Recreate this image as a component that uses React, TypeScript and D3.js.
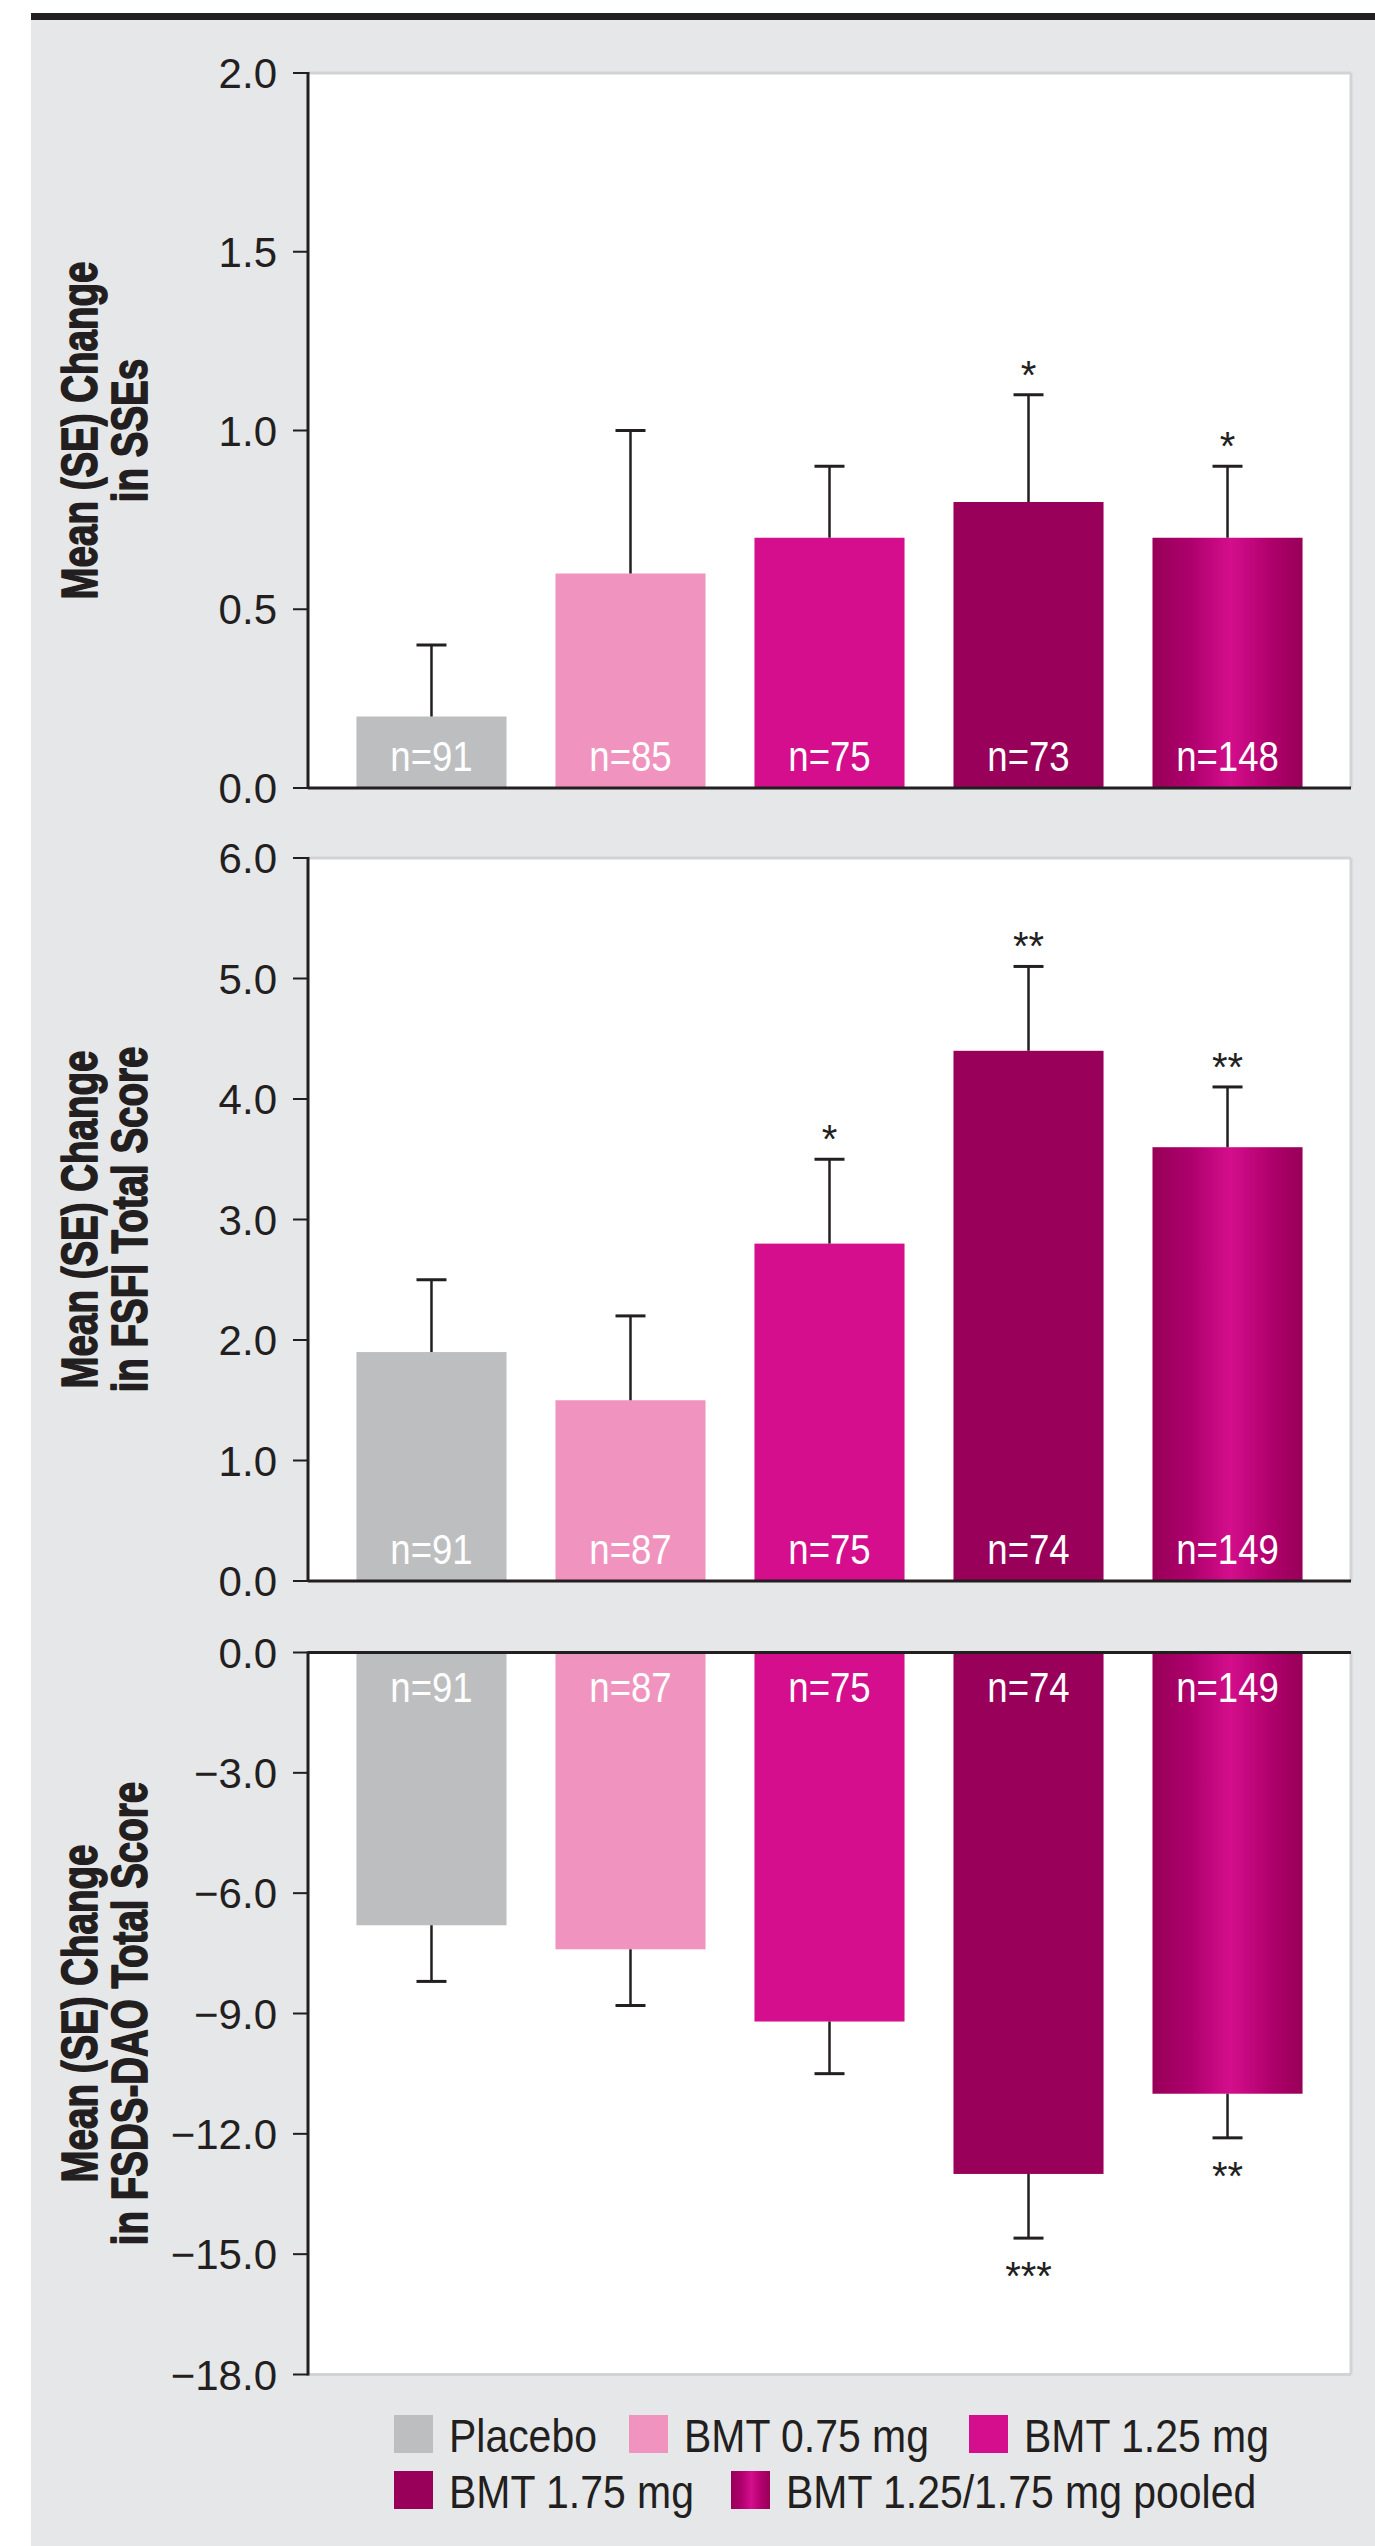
import React from "react";
import * as d3 from "d3";

// ---------- data ----------
const groups = ["Placebo", "BMT 0.75 mg", "BMT 1.25 mg", "BMT 1.75 mg", "BMT 1.25/1.75 mg pooled"];
const groupColors = ["#bcbec0", "#f094bf", "#d40e8c", "#990059", "url(#pooledGrad)"];

const sseMean = [0.2, 0.6, 0.7, 0.8, 0.7];
const sseSE = [0.2, 0.4, 0.2, 0.3, 0.2];
const sseN = [91, 85, 75, 73, 148];
const sseSig = ["", "", "", "*", "*"];
const sseTicks = [0, 0.5, 1.0, 1.5, 2.0];

const fsfiMean = [1.9, 1.5, 2.8, 4.4, 3.6];
const fsfiSE = [0.6, 0.7, 0.7, 0.7, 0.5];
const fsfiN = [91, 87, 75, 74, 149];
const fsfiSig = ["", "", "*", "**", "**"];
const fsfiTicks = [0, 1, 2, 3, 4, 5, 6];

const fsdsMean = [-6.8, -7.4, -9.2, -13.0, -11.0];
const fsdsSE = [1.4, 1.4, 1.3, 1.6, 1.1];
const fsdsN = [91, 87, 75, 74, 149];
const fsdsSig = ["", "", "", "***", "**"];
const fsdsTicks = [0, -3, -6, -9, -12, -15, -18];

const titleLine1 = "Mean (SE) Change";
const sseTitle2 = "in SSEs";
const fsfiTitle2 = "in FSFI Total Score";
const fsdsTitle2 = "in FSDS-DAO Total Score";

// ---------- layout ----------
const W = 1375;
const H = 2546;
const PLOT_L = 308;
const PLOT_R = 1351;
const FONT = "'Liberation Sans', Arial, Helvetica, sans-serif";
const INK = "#231f20";
const BORDER = "#d1d3d4";
const BG = "#e6e7e8";

const x = d3
  .scaleBand<string>()
  .domain(groups)
  .range([PLOT_L, PLOT_R])
  .paddingInner(0.246)
  .paddingOuter(0.2435);

const fmt = (v: number) => {
  const s = d3.format(".1f")(Math.abs(v));
  return v < 0 ? "\u2212" + s : s;
};

type PanelProps = {
  domain: [number, number];
  range: [number, number];
  ticks: number[];
  means: number[];
  ses: number[];
  ns: number[];
  sigs: string[];
  title2: string;
  negative?: boolean;
};

function Panel({ domain, range, ticks, means, ses, ns, sigs, title2, negative }: PanelProps) {
  const y = d3.scaleLinear().domain(domain).range(range);
  const y0 = y(0);
  const top = Math.min(range[0], range[1]);
  const bottom = Math.max(range[0], range[1]);
  const midY = (top + bottom) / 2;
  const bw = x.bandwidth();
  return (
    <g>
      <rect x={PLOT_L} y={top} width={PLOT_R - PLOT_L} height={bottom - top} fill="#fff" />
      {!negative && <line x1={PLOT_L} x2={PLOT_R} y1={top} y2={top} stroke={BORDER} strokeWidth={3} />}
      {negative && <line x1={PLOT_L} x2={PLOT_R} y1={bottom} y2={bottom} stroke={BORDER} strokeWidth={3} />}
      <line x1={PLOT_R} x2={PLOT_R} y1={top} y2={bottom} stroke={BORDER} strokeWidth={3} />
      {groups.map((g, i) => {
        const v = means[i];
        const cx = (x(g) as number) + bw / 2;
        const yv = y(v);
        const ye = y(v + (negative ? -ses[i] : ses[i]));
        return (
          <g key={g}>
            <rect
              x={x(g) as number}
              y={Math.min(yv, y0)}
              width={bw}
              height={Math.abs(yv - y0)}
              fill={groupColors[i]}
            />
            <line x1={cx} x2={cx} y1={yv} y2={ye} stroke={INK} strokeWidth={2.5} />
            <line x1={cx - 15} x2={cx + 15} y1={ye} y2={ye} stroke={INK} strokeWidth={3} />
            {sigs[i] && (
              <text
                x={cx}
                y={negative ? ye + 52 : ye - 6}
                textAnchor="middle"
                fontFamily={FONT}
                fontSize={40}
                fill={INK}
              >
                {sigs[i]}
              </text>
            )}
            <text
              transform={`translate(${cx},${negative ? y0 + 49 : y0 - 17}) scale(0.87,1)`}
              textAnchor="middle"
              fontFamily={FONT}
              fontSize={42}
              fill="#fff"
            >
              {"n=" + ns[i]}
            </text>
          </g>
        );
      })}
      <line x1={PLOT_L} x2={PLOT_R} y1={y0} y2={y0} stroke={INK} strokeWidth={3} />
      <line x1={PLOT_L} x2={PLOT_L} y1={top - 1} y2={bottom + 1} stroke={INK} strokeWidth={3} />
      {ticks.map((t) => (
        <g key={t}>
          <line x1={PLOT_L - 15} x2={PLOT_L} y1={y(t)} y2={y(t)} stroke={INK} strokeWidth={2} />
          <text
            x={277}
            y={y(t)}
            dy="0.36em"
            textAnchor="end"
            fontFamily={FONT}
            fontSize={42}
            fill={INK}
          >
            {fmt(t)}
          </text>
        </g>
      ))}
      {[titleLine1, title2].map((line, k) => (
        <text
          key={k}
          transform={`translate(${97 + k * 50},${midY}) rotate(-90) scale(0.77,1)`}
          textAnchor="middle"
          fontFamily={FONT}
          fontWeight="bold"
          fontSize={50}
          fill={INK}
          stroke={INK}
          strokeWidth={1.6}
          strokeLinejoin="round"
        >
          {line}
        </text>
      ))}
    </g>
  );
}

const legendRows = [
  [0, 1, 2],
  [3, 4],
];
const legendRowX = [
  [394, 629, 969],
  [394, 731],
];
const legendRowY = [2415, 2471];

export default function App() {
  return (
    <svg
      width={W}
      height={H}
      style={{ position: "absolute", left: 0, top: 0, display: "block" }}
      xmlns="http://www.w3.org/2000/svg"
    >
      <defs>
        <linearGradient id="pooledGrad" x1="0" x2="1" y1="0" y2="0">
          <stop offset="0%" stopColor="#980058" />
          <stop offset="25%" stopColor="#ad006c" />
          <stop offset="52%" stopColor="#d40e8c" />
          <stop offset="80%" stopColor="#ae006b" />
          <stop offset="100%" stopColor="#970058" />
        </linearGradient>
      </defs>
      <rect x={0} y={0} width={W} height={H} fill="#fff" />
      <rect x={31} y={19} width={W - 31} height={H - 19} fill={BG} />
      <rect x={31} y={13} width={W - 31} height={7} fill={INK} />

      <Panel
        domain={[0, 2]}
        range={[788, 73]}
        ticks={sseTicks}
        means={sseMean}
        ses={sseSE}
        ns={sseN}
        sigs={sseSig}
        title2={sseTitle2}
      />
      <Panel
        domain={[0, 6]}
        range={[1581, 858]}
        ticks={fsfiTicks}
        means={fsfiMean}
        ses={fsfiSE}
        ns={fsfiN}
        sigs={fsfiSig}
        title2={fsfiTitle2}
      />
      <Panel
        domain={[-18, 0]}
        range={[2374.5, 1652.5]}
        ticks={fsdsTicks}
        means={fsdsMean}
        ses={fsdsSE}
        ns={fsdsN}
        sigs={fsdsSig}
        title2={fsdsTitle2}
        negative
      />

      {legendRows.map((row, r) =>
        row.map((gi, j) => (
          <g key={gi}>
            <rect x={legendRowX[r][j]} y={legendRowY[r]} width={39} height={38} fill={groupColors[gi]} />
            <text
              transform={`translate(${legendRowX[r][j] + 55},${legendRowY[r] + 37}) scale(0.89,1)`}
              fontFamily={FONT}
              fontSize={46}
              fill={INK}
            >
              {groups[gi]}
            </text>
          </g>
        ))
      )}
    </svg>
  );
}
